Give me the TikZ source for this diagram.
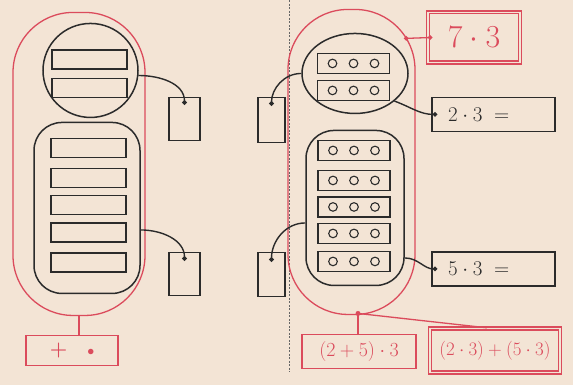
\RequirePackage{fix-cm}
\documentclass[tikz,border=0pt]{standalone}
\usepackage{amsmath}
\usepackage{tikz}
\usepackage{xcolor}
\usetikzlibrary{arrows.meta, positioning, shapes.geometric}
\definecolor{paper}{HTML}{F3E4D5}
\definecolor{inkred}{HTML}{DB4B5C}
\definecolor{inkblack}{HTML}{2B2B2B}

\begin{document}
\begin{tikzpicture}[
    x=1pt, y=-1pt,
    bar/.style={rectangle, draw=inkblack, line width=1.4pt, minimum width=75pt, minimum height=19pt, inner sep=0pt},
    beadbar/.style={bar, minimum width=72pt, minimum height=20pt, path picture={
        \foreach \k in {-1,0,1}
            \draw[inkblack, line width=1.1pt] ([xshift=\k*21pt]path picture bounding box.center) circle (4.3pt);}},
    group/.style={draw=inkblack, line width=1.5pt, inner sep=0pt},
    tag/.style={rectangle, draw=inkblack, line width=1.4pt, inner sep=0pt},
    total/.style={rectangle, rounded corners=60pt, draw=inkred, line width=1.3pt, inner sep=0pt},
    redbox/.style={rectangle, draw=inkred, line width=1.3pt, text=inkred, inner sep=0pt},
    sumbox/.style={rectangle, draw=inkblack, line width=1.5pt, text=inkblack, inner sep=0pt, inner xsep=16pt,
        text width=91pt, align=left, minimum height=34pt, font=\fontsize{21}{23}\selectfont},
    link/.style={inkblack, line width=1.4pt, -{Circle[length=4.5pt]}},
    redlink/.style={inkred, line width=1.3pt}
]
\fill[paper] (0,0) rectangle (573,385);

% left half: bars grouped
\node[total, minimum width=132pt, minimum height=303pt] (totalL) at (79,163.5) {};
\node[group, ellipse, minimum width=95pt, minimum height=94pt] (grpA) at (90.5,70) {};
\node[bar] (barA1) at (89.5,59) {};
\node[bar] (barA2) at (89.5,87.5) {};
\node[group, rectangle, rounded corners=28pt, minimum width=106pt, minimum height=171pt] (grpB) at (87,207.5) {};
\node[bar] (barB1) at (88.5,147.5) {};
\node[bar] (barB2) at (88.5,177.5) {};
\node[bar] (barB3) at (88.5,204.5) {};
\node[bar] (barB4) at (88.5,232) {};
\node[bar] (barB5) at (88.5,262) {};
\node[tag, minimum width=31pt, minimum height=43pt] (tagA) at (184.5,118.5) {};
\node[tag, minimum width=31pt, minimum height=43pt] (tagB) at (184.5,273.5) {};
\coordinate[below=8pt of tagA.north] (dotA);
\coordinate[below=9pt of tagB.north] (dotB);
\node[redbox, minimum width=92pt, minimum height=30pt, font=\fontsize{20}{22}\selectfont] (sumL) at (72,350) {$\boldsymbol{+}\quad{\scriptstyle\bullet}$};

\draw[link] (grpA.-6) to[out=0, in=90] (dotA);
\draw[link] ([yshift=-22pt]grpB.east) to[out=0, in=90] (dotB);
\draw[redlink] (totalL.south) -- (totalL.south |- sumL.north);

% divider
\coordinate (divTop) at (289,0);
\coordinate (divBot) at (289,372);
\draw[gray!80!black, line width=0.9pt, dash pattern=on 2pt off 1.5pt] (divTop) -- (divBot);

% right half: bars of beads
\node[total, minimum width=127pt, minimum height=305pt] (totalR) at (351.5,161.5) {};
\node[group, ellipse, minimum width=106pt, minimum height=80pt] (grpC) at (355,73) {};
\node[beadbar] (barC1) at (353.5,63) {};
\node[beadbar] (barC2) at (353.5,90) {};
\node[group, rectangle, rounded corners=28pt, minimum width=98pt, minimum height=155pt] (grpD) at (355,207.5) {};
\node[beadbar] (barD1) at (354,150) {};
\node[beadbar] (barD2) at (354,180) {};
\node[beadbar] (barD3) at (354,206.5) {};
\node[beadbar] (barD4) at (354,233) {};
\node[beadbar] (barD5) at (354,261) {};
\node[tag, minimum width=27pt, minimum height=45pt] (tagC) at (271.5,119.5) {};
\node[tag, minimum width=27pt, minimum height=44pt] (tagD) at (271.5,274) {};
\coordinate[below=9pt of tagC.north] (dotC);
\coordinate[below=10pt of tagD.north] (dotD);

\node[redbox, double=paper, double distance=1.5pt, minimum width=92pt, minimum height=50pt, font=\fontsize{32}{34}\selectfont] (prod) at (474,37) {$7\cdot3$};
\node[sumbox] (sumTop) at (493.5,114) {$2\cdot3\;=$};
\node[sumbox] (sumBot) at (493.5,268.5) {$5\cdot3\;=$};
\node[redbox, minimum width=114pt, minimum height=34pt, font=\fontsize{20}{22}\selectfont] (distL) at (359,351) {$(2+5)\cdot3$};
\node[redbox, double=paper, double distance=1.5pt, minimum width=130pt, minimum height=44pt, font=\fontsize{19}{21}\selectfont] (distR) at (495,350) {$(2\cdot3)+(5\cdot3)$};
\coordinate[right=5pt of prod.west] (prodIn);
\coordinate[right=6pt of sumTop.west] (dotT);
\coordinate[right=6pt of sumBot.west] (dotU);
\coordinate (rimR) at (404,38);
\coordinate (footR) at (358,313);

\draw[link] (grpC.west) to[out=180, in=90] (dotC);
\draw[link] ([yshift=-15pt]grpD.west) to[out=180, in=90] (dotD);
\draw[link] (grpC.-35) to[out=-20, in=180] (dotT);
\draw[link] ([yshift=-50pt]grpD.east) to[out=0, in=180] (dotU);
\draw[redlink, {Circle[length=4.5pt]}-{Circle[length=4.5pt]}] (rimR) -- (prodIn);
\fill[inkred] (footR) circle (2.5pt);
\draw[redlink] (footR) -- (footR |- distL.north);
\draw[redlink] (footR) -- ([xshift=-8pt]distR.north);
\end{tikzpicture}
\end{document}
